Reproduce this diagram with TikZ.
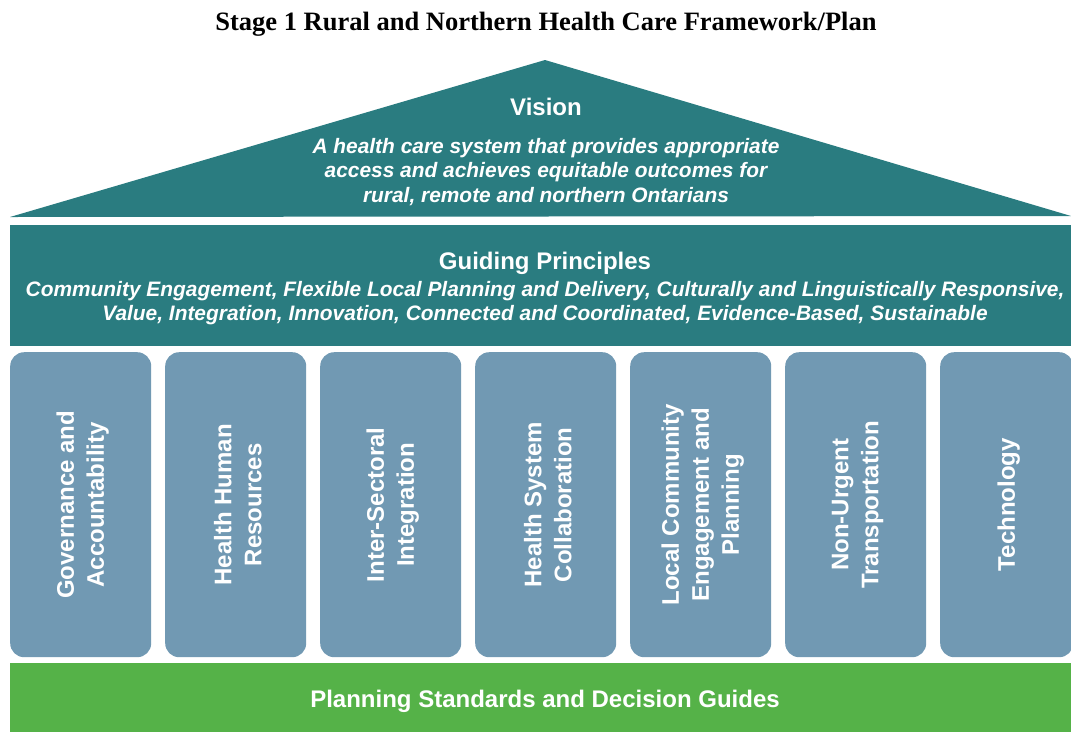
\documentclass[tikz,border=0pt]{standalone}
\usepackage{fontspec}
\setmainfont{Liberation Sans}
\newfontfamily\titlefont{Liberation Serif}
\definecolor{roofteal}{HTML}{2A7C80}
\definecolor{pillarblue}{HTML}{7199B3}
\definecolor{basegreen}{HTML}{55B248}
\begin{document}
\begin{tikzpicture}[x=1pt, y=-1pt,
                    pillar/.style={fill=pillarblue, rounded corners=14pt, minimum height=305pt, inner sep=0pt},
                    headtext/.style={text=white, font=\bfseries\fontsize{24}{28}\selectfont, inner sep=0pt},
                    subtext/.style={text=white, align=center, font=\bfseries\itshape\fontsize{20.9}{24.5}\selectfont, inner sep=0pt},
                    pillartext/.style={text=white, align=center, rotate=90, font=\bfseries\fontsize{24}{30}\selectfont, inner sep=0pt}
                    ]
    \useasboundingbox (0,0) rectangle (1071,732);

    % title
    \node[font=\titlefont\bfseries\fontsize{26.5}{30}\selectfont] (title) at (546,24) {Stage 1 Rural and Northern Health Care Framework/Plan};

    % roof
    \coordinate (roofL) at (10,217);
    \coordinate (roofT) at (545,60);
    \coordinate (roofR) at (1071,216);
    \fill[roofteal] (roofL)--(roofT)--(roofR)--cycle;
    \node[headtext] (vision) at (546,107) {Vision};
    \node[subtext] (visiontext) at (546,172) {A health care system that provides appropriate\\
        access and achieves equitable outcomes for\\
        rural, remote and northern Ontarians};

    % guiding principles band
    \fill[roofteal] (10,225) rectangle (1071,346);
    \node[headtext] (guiding) at (545,263) {Guiding Principles};
    \node[subtext] (principles) at (545,303) {Community Engagement, Flexible Local Planning and Delivery, Culturally and Linguistically Responsive,\\
        Value, Integration, Innovation, Connected and Coordinated, Evidence-Based, Sustainable};

    % pillars
    \foreach \i/\w/\txt in {0/141/{Governance and\\Accountability},
                            1/141/{Health Human\\Resources},
                            2/141/{Inter-Sectoral\\Integration},
                            3/141/{Health System\\Collaboration},
                            4/141/{Local Community\\Engagement and\\Planning},
                            5/141/{Non-Urgent\\Transportation},
                            6/133/{Technology}}{
        \node[pillar, minimum width=\w pt, anchor=north west] (p\i) at (10+155*\i,352) {};
        \node[pillartext] at ([xshift=2pt]p\i.center) {\txt};
    }

    % base
    \fill[basegreen] (10,663) rectangle (1071,732);
    \node[headtext] (standards) at (545,701) {Planning Standards and Decision Guides};
\end{tikzpicture}
\end{document}
